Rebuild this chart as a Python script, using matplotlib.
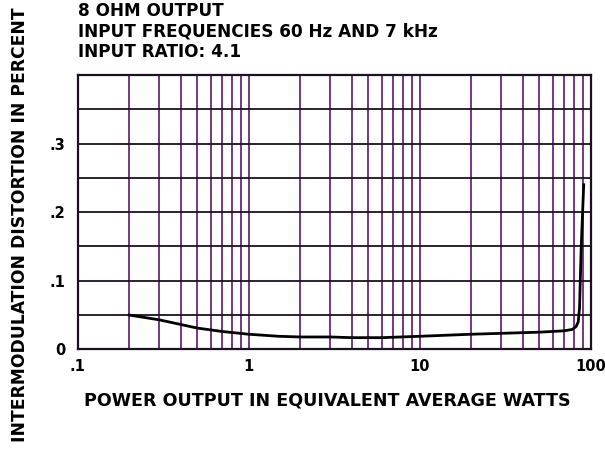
import numpy as np
import matplotlib.pyplot as plt
from matplotlib.ticker import FixedLocator, NullFormatter

plt.rcParams['font.family'] = ['DejaVu Sans']
plt.rcParams['font.weight'] = 'bold'

# IM distortion curve
watts = [0.2, 0.3, 0.5, 0.7, 1.0, 1.5, 2.0, 3.0, 4.0, 6.0, 10.0, 20.0,
         50.0, 70.0, 78.0, 82.0, 84.5, 86.0, 88.0, 91.0]
distortion = [0.050, 0.043, 0.031, 0.026, 0.022, 0.019, 0.018, 0.018, 0.017,
              0.017, 0.019, 0.022, 0.025, 0.027, 0.029, 0.033, 0.040, 0.060,
              0.150, 0.240]

x_ticks = [0.1, 1, 10, 100]
x_tick_labels = ['.1', '1', '10', '100']
y_ticks = [0, 0.1, 0.2, 0.3]
y_tick_labels = ['0', '.1', '.2', '.3']
title_lines = ['8 OHM OUTPUT', 'INPUT FREQUENCIES 60 Hz AND 7 kHz', 'INPUT RATIO: 4.1']

fig = plt.figure(figsize=(6.05, 4.49), dpi=100)
ax = fig.add_axes([0.1284, 0.222, 0.848, 0.611])

ax.set_xscale('log')
ax.set_xlim(0.1, 100)
ax.set_ylim(0, 0.4)

# log grid (purple verticals) and 0.05 grid (dark horizontals)
minor_x = [m * 10.0 ** e for e in range(-1, 2) for m in range(2, 10)]
for xv in minor_x + [1, 10]:
    ax.axvline(xv, color='#6a2a78', lw=1.3, zorder=1)
for yv in np.arange(0.05, 0.4, 0.05):
    ax.axhline(yv, color='#1c1020', lw=1.3, zorder=1)

ax.plot(watts, distortion, color='black', lw=2.0, zorder=3)

ax.xaxis.set_major_locator(FixedLocator(x_ticks))
ax.set_xticklabels(x_tick_labels)
ax.xaxis.set_minor_formatter(NullFormatter())
ax.set_yticks(y_ticks)
ax.set_yticklabels(y_tick_labels)
ax.tick_params(which='both', length=0, labelsize=10.5, pad=7)
ax.tick_params(axis='y', pad=9)

for s in ax.spines.values():
    s.set_color('#1c1020')
    s.set_linewidth(1.6)

ax.set_xlabel('POWER OUTPUT IN EQUIVALENT AVERAGE WATTS', fontsize=12.6,
              fontweight='bold')
ax.xaxis.set_label_coords(0.486, -0.153)
fig.text(0.033, 0.5, 'INTERMODULATION DISTORTION IN PERCENT', rotation=90,
         ha='center', va='center', fontsize=12.3, fontweight='bold')

for i, line in enumerate(title_lines):
    fig.text(78 / 605, 1 - (16 + 20.5 * i) / 449, line, ha='left',
             va='baseline', fontsize=12.2, fontweight='bold')

fig.savefig('out.png', dpi=100)
